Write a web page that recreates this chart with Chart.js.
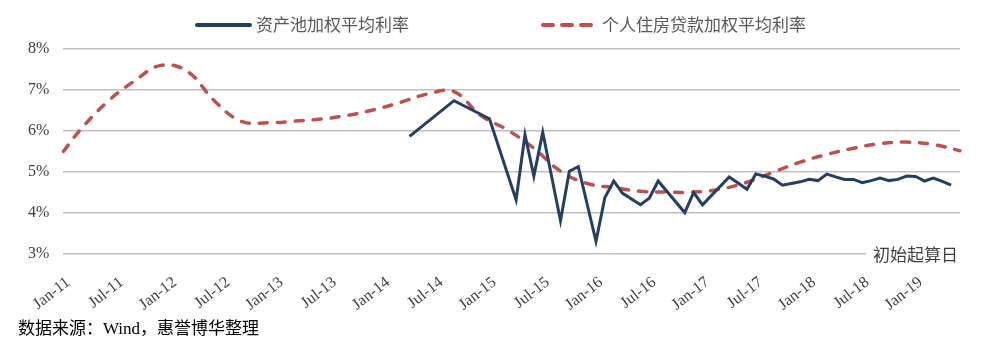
<!DOCTYPE html>
<html lang="zh-CN">
<head>
<meta charset="UTF-8">
<title>资产池加权平均利率</title>
<script src="https://cdn.jsdelivr.net/npm/chart.js"></script>
<style>
  html, body { margin: 0; padding: 0; background: #fff; }
  .wrap { position: relative; width: 988px; height: 358px; }
  .source {
    position: absolute; left: 18px; top: 314px;
    font: 17px "Liberation Serif", "Noto Sans CJK SC", serif;
    color: #000;
  }
</style>
</head>
<body>
<div class="wrap">
  <canvas id="rateChart"></canvas>
  <div class="source">数据来源：Wind，惠誉博华整理</div>
</div>

<script>
// monthly categories Jan-11 .. Jun-19
const monthNames = ['Jan','Feb','Mar','Apr','May','Jun','Jul','Aug','Sep','Oct','Nov','Dec'];
const years = ['11','12','13','14','15','16','17','18','19'];
const monthLabels = [];
years.forEach(y => monthNames.forEach((m, i) => {
  if (y === '19' && i > 5) return;
  monthLabels.push(m + '-' + y);
}));

// 资产池加权平均利率 (%)
const assetMonths = ['Apr-14','Sep-14','Jan-15','Apr-15','May-15','Jun-15','Jul-15','Sep-15','Oct-15','Nov-15',
  'Jan-16','Feb-16','Mar-16','Apr-16','Jun-16','Jul-16','Aug-16','Nov-16','Dec-16','Jan-17',
  'Apr-17','May-17','Jun-17','Jul-17','Aug-17','Sep-17','Oct-17','Nov-17','Dec-17','Jan-18',
  'Feb-18','Mar-18','Apr-18','May-18','Jun-18','Jul-18','Aug-18','Sep-18','Oct-18','Nov-18',
  'Dec-18','Jan-19','Feb-19','Mar-19','Apr-19','May-19'];
const assetRates = [5.87, 6.74, 6.30, 4.32, 5.91, 4.90, 5.97, 3.81, 5.02, 5.13,
  3.31, 4.38, 4.78, 4.48, 4.20, 4.36, 4.78, 4.01, 4.50, 4.20,
  4.88, 4.73, 4.58, 4.95, 4.90, 4.83, 4.68, 4.72, 4.76, 4.82,
  4.79, 4.95, 4.88, 4.82, 4.82, 4.74, 4.79, 4.85, 4.79, 4.82,
  4.90, 4.89, 4.78, 4.85, 4.77, 4.68];

// 个人住房贷款加权平均利率 (%)
const mortgageMonths = ['Jan-11','Mar-11','Jun-11','Sep-11','Dec-11','Mar-12','Jun-12','Sep-12','Dec-12',
  'Mar-13','Jun-13','Sep-13','Dec-13','Mar-14','Jun-14','Sep-14','Dec-14','Mar-15','Jun-15',
  'Sep-15','Dec-15','Mar-16','Jun-16','Sep-16','Dec-16','Mar-17','Jun-17','Sep-17','Dec-17',
  'Mar-18','Jun-18','Sep-18','Dec-18','Mar-19','Jun-19'];
const mortgageRates = [5.50, 6.05, 6.72, 7.22, 7.60, 7.45, 6.74, 6.24, 6.20,
  6.24, 6.29, 6.38, 6.52, 6.70, 6.90, 6.96, 6.38, 6.03, 5.58,
  5.02, 4.72, 4.62, 4.53, 4.51, 4.51, 4.58, 4.75, 5.00, 5.24,
  5.43, 5.58, 5.69, 5.73, 5.67, 5.52];

const seriesNames = ['资产池加权平均利率', '个人住房贷款加权平均利率'];
const navy = '#243f63';
const red = '#c0504d';

// legend drawn by hand so the two items sit where the original has them
const topLegend = {
  id: 'topLegend',
  afterDraw(chart) {
    const ctx = chart.ctx;
    const items = [
      { x: 197, color: navy, dash: [] },
      { x: 543, color: red, dash: [10, 9] }
    ];
    ctx.save();
    ctx.font = '17px "Noto Sans CJK SC", sans-serif';
    ctx.textBaseline = 'middle';
    items.forEach((it, i) => {
      ctx.beginPath();
      ctx.setLineDash(it.dash);
      ctx.lineWidth = 4;
      ctx.lineCap = 'round';
      ctx.strokeStyle = it.color;
      ctx.moveTo(it.x, 25);
      ctx.lineTo(it.x + 53, 25);
      ctx.stroke();
      ctx.fillStyle = '#595959';
      ctx.fillText(seriesNames[i], it.x + 59, 25);
    });
    ctx.restore();
  }
};

// "初始起算日" note at the right end of the 3% line
const startNote = {
  id: 'startNote',
  afterDraw(chart) {
    const ctx = chart.ctx;
    const y = chart.scales.y.getPixelForValue(3);
    ctx.save();
    ctx.fillStyle = '#fff';
    ctx.fillRect(866, y - 3, 100, 6);
    ctx.font = '17px "Noto Sans CJK SC", sans-serif';
    ctx.fillStyle = '#404040';
    ctx.textAlign = 'right';
    ctx.textBaseline = 'middle';
    ctx.fillText('初始起算日', 958, y + 1);
    ctx.restore();
  }
};

new Chart(document.getElementById('rateChart'), {
  type: 'line',
  data: {
    labels: monthLabels,
    datasets: [
      {
        label: seriesNames[0],
        data: assetMonths.map((m, i) => ({ x: m, y: assetRates[i] })),
        borderColor: navy,
        borderWidth: 3,
        pointRadius: 0,
        tension: 0,
        fill: false
      },
      {
        label: seriesNames[1],
        data: mortgageMonths.map((m, i) => ({ x: m, y: mortgageRates[i] })),
        borderColor: red,
        borderWidth: 3.5,
        borderDash: [8, 10],
        borderCapStyle: 'round',
        pointRadius: 0,
        tension: 0.4,
        fill: false
      }
    ]
  },
  options: {
    responsive: true,
    maintainAspectRatio: false,
    animation: false,
    layout: { padding: { top: 49, left: 14, right: 28, bottom: 32 } },
    plugins: {
      legend: { display: false },
      tooltip: { enabled: false }
    },
    scales: {
      x: {
        type: 'category',
        grid: { display: false },
        border: { display: false },
        afterFit: scale => { scale.height = 72; },
        ticks: {
          autoSkip: false,
          minRotation: 38,
          maxRotation: 38,
          padding: 11,
          labelOffset: 5,
          color: '#404040',
          font: { family: '"Liberation Serif", serif', size: 16 },
          callback: (v, i) => (i % 6 === 0 ? monthLabels[i] : null)
        }
      },
      y: {
        min: 3,
        max: 8,
        border: { display: false },
        grid: { color: '#bfbfbf', lineWidth: 1.5, drawTicks: false },
        ticks: {
          stepSize: 1,
          padding: 14,
          color: '#404040',
          font: { family: '"Liberation Serif", serif', size: 16 },
          callback: v => v + '%'
        }
      }
    }
  },
  plugins: [topLegend, startNote]
});
</script>
</body>
</html>
